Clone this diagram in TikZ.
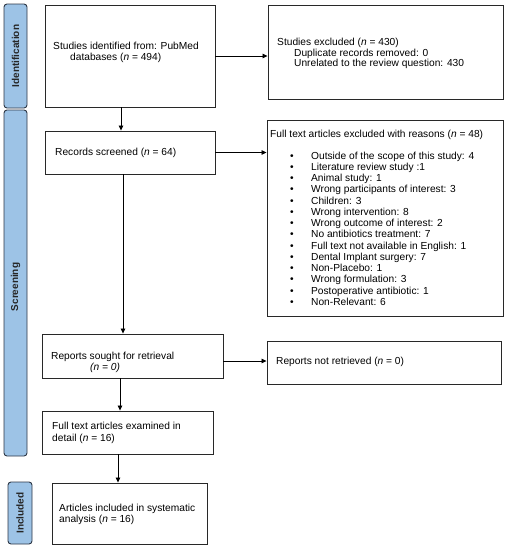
\documentclass[tikz,border=0pt]{standalone}
\usepackage{fontspec}
\setmainfont{Liberation Sans}
\usetikzlibrary{arrows.meta}
\definecolor{bandfill}{RGB}{157,195,230}
\definecolor{bandline}{RGB}{45,55,70}
\definecolor{boxline}{RGB}{40,40,40}
\begin{document}
\begin{tikzpicture}[x=1pt,y=-1pt,
  box/.style={draw=boxline, line width=0.9pt, fill=white, inner sep=0pt},
  band/.style={draw=bandline, line width=0.9pt, fill=bandfill, rounded corners=3pt, inner sep=0pt},
  bandlabel/.style={rotate=90, inner sep=0pt, font=\fontsize{10}{11}\selectfont\bfseries, text=black!85},
  txt/.style={anchor=west, align=left, inner sep=0pt, font=\fontsize{10.2}{12}\selectfont},
  arr/.style={draw=black, line width=0.8pt, -{Triangle[length=5pt,width=4.5pt]}}]
\useasboundingbox (0,0) rectangle (508,550);
% bands
\node[band, minimum width=23pt, minimum height=104pt] (bid) at (15.5,56) {};
\node[band, minimum width=23pt, minimum height=346pt] (bscr) at (15.5,283) {};
\node[band, minimum width=24pt, minimum height=62pt] (binc) at (20,513) {};
\node[bandlabel] (lid) at (bid) {Identification};
\node[bandlabel] (lscr) at (15.5,287) {Screening};
\node[bandlabel] (linc) at (binc) {Included};
% boxes
\node[box, minimum width=170pt, minimum height=102pt] (b1) at (130,56) {};
\node[box, minimum width=235pt, minimum height=94pt] (b2) at (385.5,52) {};
\node[box, minimum width=170pt, minimum height=43pt] (b3) at (130,152.5) {};
\node[box, minimum width=236pt, minimum height=196pt] (b4) at (385,218) {};
\node[box, minimum width=181pt, minimum height=44pt] (b5) at (132.5,356) {};
\node[box, minimum width=234pt, minimum height=43pt] (b6) at (384,362.5) {};
\node[box, minimum width=171pt, minimum height=43pt] (b7) at (127.5,432.5) {};
\node[box, minimum width=155pt, minimum height=61pt] (b8) at (129.5,513.5) {};
% texts
\node[txt, font=\fontsize{10.2}{11}\selectfont] (t1) at (53,52) {Studies identified from: PubMed\\\hspace*{17pt}databases (\textit{n} = 494)};
\node[txt, font=\fontsize{10.2}{10.2}\selectfont] (t2) at (277,53.5) {Studies excluded (\textit{n} = 430)\\\hspace*{17pt}Duplicate records removed: 0\\\hspace*{17pt}Unrelated to the review question: 430};
\node[txt] (t3) at (55,153) {Records screened (\textit{n} = 64)};
\node[txt] (t4) at (270,135) {Full text articles excluded with reasons (\textit{n} = 48)};
\node[txt, font=\fontsize{10.2}{11.23}\selectfont] (t4l) at (290,230) {%
\begin{tabular}{@{}l@{\hspace{17.4pt}}l@{}}
• & Outside of the scope of this study: 4\\
• & Literature review study :1\\
• & Animal study: 1\\
• & Wrong participants of interest: 3\\
• & Children: 3\\
• & Wrong intervention: 8\\
• & Wrong outcome of interest: 2\\
• & No antibiotics treatment: 7\\
• & Full text not available in English: 1\\
• & Dental Implant surgery: 7\\
• & Non-Placebo: 1\\
• & Wrong formulation: 3\\
• & Postoperative antibiotic: 1\\
• & Non-Relevant: 6
\end{tabular}};
\node[txt, font=\fontsize{10.2}{11.5}\selectfont] (t5) at (51,362.5) {Reports sought for retrieval\\\hspace*{39pt}\textit{(n = 0)}};
\node[txt] (t6) at (276,362) {Reports not retrieved (\textit{n} = 0)};
\node[txt, font=\fontsize{10.2}{11.5}\selectfont] (t7) at (52,433) {Full text articles examined in\\detail (\textit{n} = 16)};
\node[txt, font=\fontsize{10.2}{11.5}\selectfont] (t8) at (59,514.5) {Articles included in systematic\\analysis (\textit{n} = 16)};
% connectors
\draw[arr] (b1.east) -- (b1.east -| b2.west);
\draw[arr] ([xshift=-9pt]b1.south) -- ([xshift=-9pt]b1.south |- b3.north);
\draw[arr] (b3.east) -- (b3.east -| b4.west);
\draw[arr] ([xshift=-7pt]b3.south) -- ([xshift=-7pt]b3.south |- b5.north);
\draw[arr] ([yshift=-5pt]b5.east) -- ([yshift=-5pt]b5.east -| b6.west);
\draw[arr] ([xshift=-12.5pt]b5.south) -- ([xshift=-12.5pt]b5.south |- b7.north);
\draw[arr] ([xshift=-9.5pt]b7.south) -- ([xshift=-9.5pt]b7.south |- b8.north);
\end{tikzpicture}
\end{document}
